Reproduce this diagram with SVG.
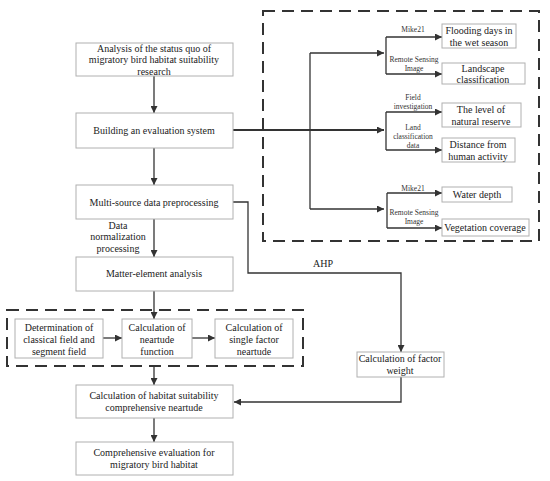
<svg xmlns="http://www.w3.org/2000/svg" width="550" height="481" viewBox="0 0 550 481">
<defs>
<marker id="ah" viewBox="0 0 10 10" refX="10" refY="5" markerWidth="7" markerHeight="7" markerUnits="userSpaceOnUse" orient="auto"><path d="M0,0 L10,5 L0,10 z" fill="#333"/></marker>
<style>
.box{fill:#fff;stroke:#b0b0b0;stroke-width:1}
.t{font-family:"Liberation Serif","Times New Roman",serif;font-size:10px;fill:#222;text-anchor:middle}
.tr{font-family:"Liberation Serif","Times New Roman",serif;font-size:10px;fill:#222;text-anchor:middle}
.s{font-family:"Liberation Serif","Times New Roman",serif;font-size:7.5px;fill:#333;text-anchor:middle}
.c{fill:none;stroke:#333;stroke-width:1.3}
.a{marker-end:url(#ah)}
.d{fill:none;stroke:#333;stroke-width:2;stroke-dasharray:12 7}
</style>
</defs>
<rect width="550" height="481" fill="#fff"/>
<rect class="d" x="263" y="11" width="276" height="230"/>
<rect class="d" x="7" y="310" width="296" height="56"/>
<g id="connectors">
<path class="c a" d="M154,76 V113"/>
<path class="c a" d="M154,148 V185"/>
<path class="c a" d="M154,219 V257"/>
<path class="c a" d="M154,291 V319"/>
<path class="c a" d="M154,366 V385"/>
<path class="c a" d="M154,418 V442"/>
<path class="c a" d="M103,338 H122"/>
<path class="c a" d="M192,338 H215"/>
<path class="c a" d="M233,130 H384" style="stroke-width:1.8"/>
<path class="c" d="M310,53 V209"/>
<path class="c a" d="M310,53 H384"/>
<path class="c a" d="M310,209 H384"/>
<path class="c" d="M386,37 V74"/>
<path class="c a" d="M386,37 H442"/>
<path class="c a" d="M386,74 H442"/>
<path class="c" d="M386,112 V150"/>
<path class="c a" d="M386,112 H442"/>
<path class="c a" d="M386,150 H442"/>
<path class="c" d="M387,193 V228"/>
<path class="c a" d="M387,193 H442"/>
<path class="c a" d="M387,228 H442"/>
<path class="c a" d="M233,202 H248 V273 H401 V352"/>
<path class="c a" d="M401,377 V402 H234"/>
<text class="s" x="413" y="32">Mike21</text>
<text class="s" x="414" y="62">Remote Sensing</text>
<text class="s" x="414" y="71">Image</text>
<text class="s" x="413" y="100">Field</text>
<text class="s" x="413" y="109">investigation</text>
<text class="s" x="413" y="130">Land</text>
<text class="s" x="413" y="139">classification</text>
<text class="s" x="413" y="148">data</text>
<text class="s" x="413" y="191">Mike21</text>
<text class="s" x="414" y="215">Remote Sensing</text>
<text class="s" x="414" y="224">Image</text>
<text class="t" x="118" y="229">Data</text>
<text class="t" x="118" y="240">normalization</text>
<text class="t" x="118" y="252">processing</text>
<text class="t" x="323" y="267">AHP</text>
</g>
<g id="n1"><rect class="box" x="76" y="43" width="157" height="33"/><text class="t" x="154" y="52">Analysis of the status quo of</text><text class="t" x="154" y="63">migratory bird habitat suitability</text><text class="t" x="154" y="75">research</text></g>
<g id="n2"><rect class="box" x="76" y="113" width="157" height="35"/><text class="t" x="154" y="134">Building an evaluation system</text></g>
<g id="n3"><rect class="box" x="76" y="185" width="157" height="34"/><text class="t" x="154" y="206">Multi-source data preprocessing</text></g>
<g id="n4"><rect class="box" x="76" y="257" width="157" height="34"/><text class="t" x="154" y="277">Matter-element analysis</text></g>
<g id="n5"><rect class="box" x="15" y="319" width="88" height="39"/><text class="t" x="59" y="331">Determination of</text><text class="t" x="59" y="343">classical field and</text><text class="t" x="59" y="355">segment field</text></g>
<g id="n6"><rect class="box" x="122" y="319" width="70" height="39"/><text class="t" x="157" y="331">Calculation of</text><text class="t" x="157" y="343">neartude</text><text class="t" x="157" y="355">function</text></g>
<g id="n7"><rect class="box" x="215" y="319" width="78" height="39"/><text class="t" x="254" y="331">Calculation of</text><text class="t" x="254" y="343">single factor</text><text class="t" x="254" y="355">neartude</text></g>
<g id="n8"><rect class="box" x="76" y="385" width="157" height="33"/><text class="t" x="154" y="399">Calculation of habitat suitability</text><text class="t" x="154" y="411">comprehensive neartude</text></g>
<g id="n9"><rect class="box" x="76" y="442" width="157" height="33"/><text class="t" x="154" y="456">Comprehensive evaluation for</text><text class="t" x="154" y="468">migratory bird habitat</text></g>
<g id="n10"><rect class="box" x="357" y="352" width="87" height="25"/><text class="t" x="400" y="362">Calculation of factor</text><text class="t" x="400" y="374">weight</text></g>
<g id="n11"><rect class="box" x="442" y="24" width="74" height="24"/><text class="tr" x="479" y="34">Flooding days in</text><text class="tr" x="479" y="46">the wet season</text></g>
<g id="n12"><rect class="box" x="442" y="63" width="83" height="21"/><text class="tr" x="483" y="72">Landscape</text><text class="tr" x="483" y="83">classification</text></g>
<g id="n13"><rect class="box" x="442" y="103" width="79" height="24"/><text class="tr" x="481" y="113">The level of</text><text class="tr" x="481" y="125">natural reserve</text></g>
<g id="n14"><rect class="box" x="442" y="138" width="73" height="24"/><text class="tr" x="478" y="148">Distance from</text><text class="tr" x="478" y="160">human activity</text></g>
<g id="n15"><rect class="box" x="442" y="187" width="70" height="15"/><text class="tr" x="477" y="198">Water depth</text></g>
<g id="n16"><rect class="box" x="442" y="219" width="87" height="17"/><text class="tr" x="485" y="231">Vegetation coverage</text></g>
</svg>
